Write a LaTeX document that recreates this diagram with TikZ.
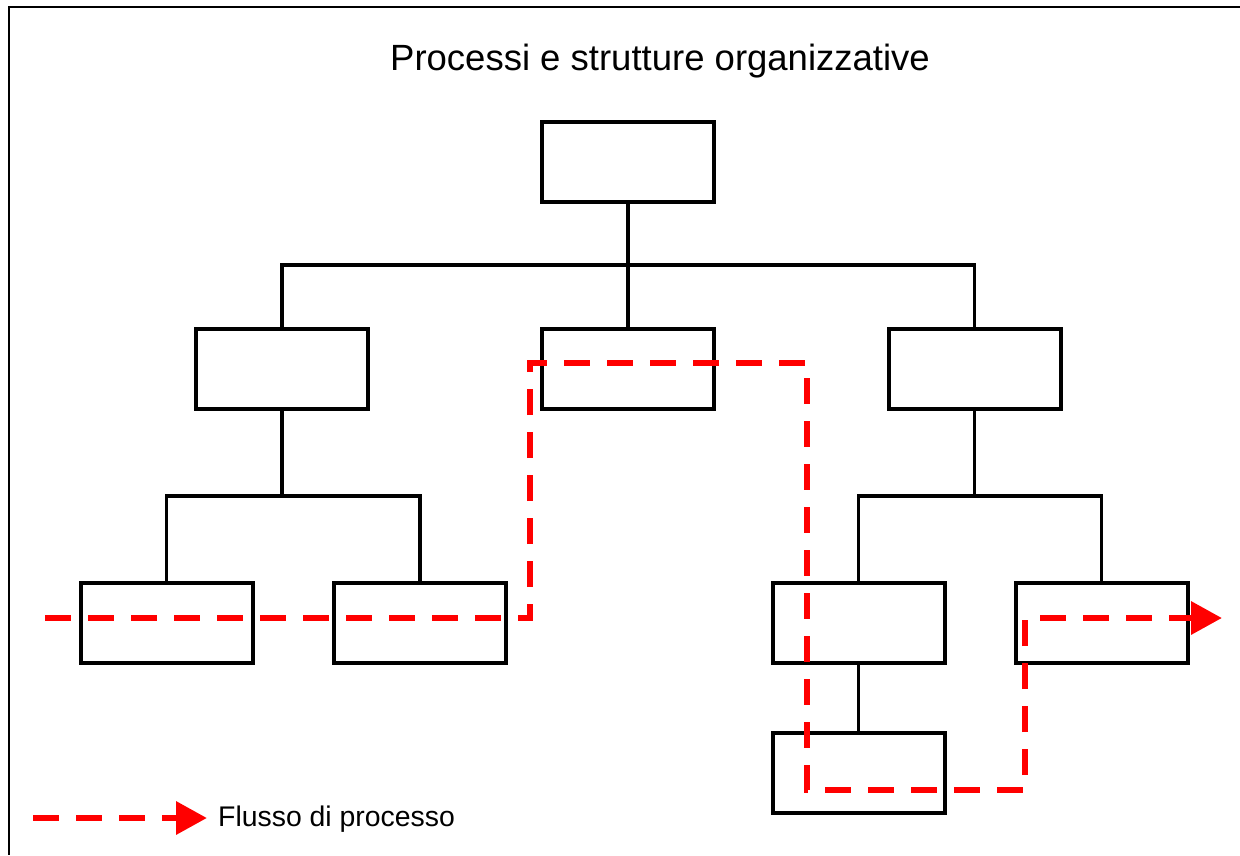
\documentclass[tikz,border=0pt]{standalone}
\usepackage{fontspec}
\setmainfont{Liberation Sans}
\usetikzlibrary{arrows.meta}
\begin{document}
\begin{tikzpicture}[x=1pt,y=-1pt,
  unit/.style={draw=black,line width=4pt,minimum width=172pt,minimum height=80pt,inner sep=0pt},
  link/.style={draw=black,line width=3.5pt},
  flow/.style={draw=red,line width=6.5pt,dash pattern=on 26pt off 17pt,
    -{Triangle[length=31pt,width=32pt]}}]
\useasboundingbox (0,0) rectangle (1240,855);
% frame (top and left edges)
\draw[line width=2pt] (1240,7) -- (9,7) -- (9,855);

\node[font=\fontsize{36.5}{40}\selectfont] (title) at (660,61) {Processi e strutture organizzative};

% organisation chart
\node[unit] (root) at (628,162) {};
\node[unit] (a) at (282,369) {};
\node[unit] (b) at (628,369) {};
\node[unit] (c) at (974.5,369) {};
\node[unit] (a1) at (166.5,622.5) {};
\node[unit] (a2) at (420,622.5) {};
\node[unit] (c1) at (858.5,622.5) {};
\node[unit] (c2) at (1101.5,622.5) {};
\node[unit] (c11) at (858.5,773) {};

\coordinate (bus0) at (628,265);
\coordinate (busA) at (282,496);
\coordinate (busC) at (974.5,496);

\draw[link] (root.south) -- (bus0);
\draw[link] (a.north) -- (a.north |- bus0) -- (c.north |- bus0) -- (c.north);
\draw[link] (bus0) -- (b.north);
\draw[link] (a.south) -- (busA);
\draw[link] (a1.north) -- (a1.north |- busA) -- (a2.north |- busA) -- (a2.north);
\draw[link] (c.south) -- (busC);
\draw[link] (c1.north) -- (c1.north |- busC) -- (c2.north |- busC) -- (c2.north);
\draw[link] (c1.south) -- (c11.north);

% process flow
\coordinate (f0) at (45,618);
\coordinate (f1) at (530,618);
\coordinate (f2) at (530,363);
\coordinate (f3) at (807,363);
\coordinate (f4) at (807,790);
\coordinate (f5) at (1025,790);
\coordinate (f6) at (1025,618);
\coordinate (f7) at (1222,618);
\draw[flow] (f0) -- (f1) -- (f2) -- (f3) -- (f4) -- (f5) -- (f6) -- (f7);

% legend
\coordinate (l0) at (33,818);
\coordinate (l1) at (207,818);
\draw[flow] (l0) -- (l1);
\node[anchor=west,inner sep=0pt,font=\fontsize{28.4}{32}\selectfont] (legend) at (218,819) {Flusso di processo};
\end{tikzpicture}
\end{document}
